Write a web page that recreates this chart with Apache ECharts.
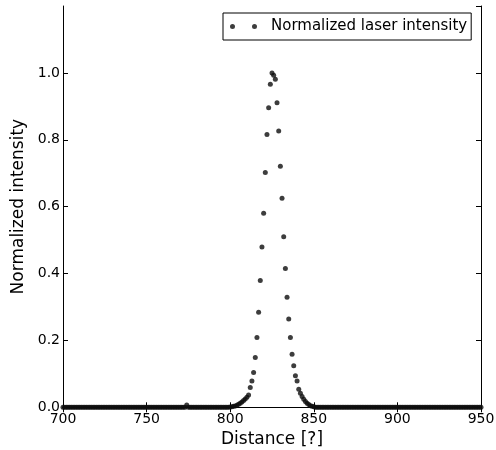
<!DOCTYPE html>
<html>
<head>
<meta charset="utf-8">
<script src="https://cdn.jsdelivr.net/npm/echarts@6/dist/echarts.min.js"></script>
<style>
  html, body { margin: 0; padding: 0; background: #fff; }
  #chart { width: 496px; height: 450px; }
</style>
</head>
<body>
<div id="chart"></div>
<script>
// Sample positions (distance)
const distance = [
  700,701,702,703,704,705,706,707,708,709,
  710,711,712,713,714,715,716,717,718,719,
  720,721,722,723,724,725,726,727,728,729,
  730,731,732,733,734,735,736,737,738,739,
  740,741,742,743,744,745,746,747,748,749,
  750,751,752,753,754,755,756,757,758,759,
  760,761,762,763,764,765,766,767,768,769,
  770,771,772,773,774,775,776,777,778,779,
  780,781,782,783,784,785,786,787,788,789,
  790,791,792,793,794,795,796,797,798,799,
  800,801,802,803,804,805,806,807,808,809,
  810,811,812,813,814,815,816,817,818,819,
  820,821,822,823,824,825,826,827,828,829,
  830,831,832,833,834,835,836,837,838,839,
  840,841,842,843,844,845,846,847,848,849,
  850,851,852,853,854,855,856,857,858,859,
  860,861,862,863,864,865,866,867,868,869,
  870,871,872,873,874,875,876,877,878,879,
  880,881,882,883,884,885,886,887,888,889,
  890,891,892,893,894,895,896,897,898,899,
  900,901,902,903,904,905,906,907,908,909,
  910,911,912,913,914,915,916,917,918,919,
  920,921,922,923,924,925,926,927,928,929,
  930,931,932,933,934,935,936,937,938,939,
  940,941,942,943,944,945,946,947,948,949,
  950
];

// Intensity, 700..799
const intensityLeft = [
  0,0,0,0,0,0,0,0,0,0,
  0,0,0,0,0,0,0,0,0,0,
  0,0,0,0,0,0,0,0,0,0,
  0,0,0,0,0,0,0,0,0,0,
  0,0,0,0,0,0,0,0,0,0,
  0,0,0,0,0,0,0,0,0,0,
  0,0,0,0,0,0,0,0,0,0,
  0,0,0,0,0.007,0,0,0,0,0,
  0,0,0,0,0,0,0,0,0,0,
  0,0,0,0,0,0,0,0,0,0
];
// Intensity, 800..849
const intensityPeak = [
  0.001,0.002,0.003,0.004,0.006,0.009,0.012,0.016,0.020,0.025,
  0.030,0.037,0.059,0.079,0.104,0.149,0.209,0.284,0.379,0.479,
  0.580,0.702,0.816,0.896,0.966,1.000,0.993,0.981,0.911,0.826,
  0.721,0.625,0.510,0.415,0.329,0.264,0.209,0.159,0.124,0.094,
  0.079,0.054,0.042,0.032,0.024,0.017,0.012,0.008,0.005,0.003
];
// Intensity, 850..950
const intensityRight = [
  0.002,0,0,0,0,0,0,0,0,0,
  0,0,0,0,0,0,0,0,0,0,
  0,0,0,0,0,0,0,0,0,0,
  0,0,0,0,0,0,0,0,0,0,
  0,0,0,0,0,0,0,0,0,0,
  0,0,0,0,0,0,0,0,0,0,
  0,0,0,0,0,0,0,0,0,0,
  0,0,0,0,0,0,0,0,0,0,
  0,0,0,0,0,0,0,0,0,0,
  0,0,0,0,0,0,0,0,0,0,
  0
];
const intensity = intensityLeft.concat(intensityPeak, intensityRight);

const seriesName = 'Normalized laser intensity';
const xAxisName = 'Distance [?]';
const yAxisName = 'Normalized intensity';

const points = distance.map((d, i) => [d, intensity[i]]);

const FONT = 'DejaVu Sans';
const chart = echarts.init(document.getElementById('chart'), null, { renderer: 'canvas' });

const axisLineStyle = { show: true, lineStyle: { color: '#000', width: 1 } };
const tickStyle = { show: true, inside: true, length: 5, lineStyle: { color: '#000', width: 1 } };

chart.setOption({
  animation: false,
  backgroundColor: '#fff',
  grid: { left: 63, top: 6, width: 418, height: 401.3, containLabel: false, outerBoundsMode: 'none' },
  legend: {
    data: [seriesName],
    left: 223,
    top: 13,
    padding: [6, 4, 6, 7],
    borderColor: '#000',
    borderWidth: 1,
    borderRadius: 0,
    backgroundColor: '#fff',
    itemWidth: 27,
    itemHeight: 5,
    icon: 'path://M0,2.5A2.5,2.5,0,1,1,5,2.5A2.5,2.5,0,1,1,0,2.5ZM22,2.5A2.5,2.5,0,1,1,27,2.5A2.5,2.5,0,1,1,22,2.5Z',
    textStyle: { fontFamily: FONT, fontSize: 15, color: '#000', padding: [0, 0, 0, 9] }
  },
  xAxis: [
    {
      type: 'value', position: 'bottom', min: 700, max: 950, interval: 50,
      name: xAxisName, nameLocation: 'middle', nameGap: 16,
      nameTextStyle: { fontFamily: FONT, fontSize: 17, color: '#000' },
      axisLine: axisLineStyle, axisTick: tickStyle,
      axisLabel: { fontFamily: FONT, fontSize: 14, color: '#000', margin: 5 },
      splitLine: { show: false }
    },
    {
      type: 'value', position: 'top', min: 700, max: 950, interval: 50,
      axisLine: axisLineStyle, axisTick: tickStyle,
      axisLabel: { show: false }, splitLine: { show: false }
    }
  ],
  yAxis: [
    {
      type: 'value', position: 'left', min: 0, max: 1.2, interval: 0.2,
      name: yAxisName, nameLocation: 'middle', nameGap: 32,
      nameTextStyle: { fontFamily: FONT, fontSize: 17, color: '#000' },
      axisLine: axisLineStyle, axisTick: tickStyle,
      axisLabel: {
        fontFamily: FONT, fontSize: 14, color: '#000', margin: 3,
        showMaxLabel: false,
        formatter: v => v.toFixed(1)
      },
      splitLine: { show: false }
    },
    {
      type: 'value', position: 'right', min: 0, max: 1.2, interval: 0.2,
      axisLine: axisLineStyle, axisTick: tickStyle,
      axisLabel: { show: false }, splitLine: { show: false }
    }
  ],
  series: [
    {
      name: seriesName,
      type: 'scatter',
      xAxisIndex: 0,
      yAxisIndex: 0,
      data: points,
      symbol: 'circle',
      symbolSize: 5,
      clip: true,
      itemStyle: { color: '#0d0d0d' },
      emphasis: { disabled: true }
    }
  ]
});
</script>
</body>
</html>
